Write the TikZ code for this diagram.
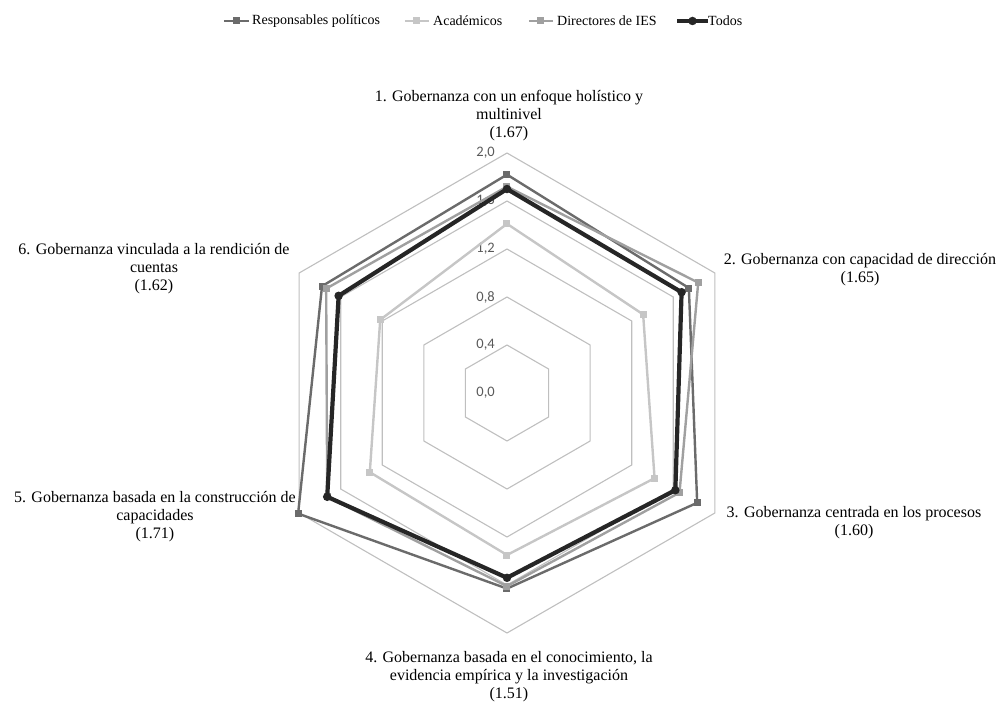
\documentclass[tikz,border=0pt]{standalone}
\usepackage{fontspec}
\setmainfont{Liberation Serif}
\newfontfamily\tickfont{Carlito}
\usepackage{xcolor}
\usepackage{tikz}
\usetikzlibrary{positioning}
\tikzset{
  ring/.style={draw=gridc, line width=1.1pt},
  serie/.style={draw=#1, line width=2.4pt, line join=round},
  sq/.style={rectangle, fill=#1, minimum size=7pt, inner sep=0pt},
  dot/.style={circle, fill=#1, minimum size=8.5pt, inner sep=0pt},
  lbl/.style={align=center, font=\fontsize{16}{18}\selectfont, inner sep=0pt},
  leg/.style={anchor=west, font=\fontsize{14}{16}\selectfont, inner sep=0pt},
  tk/.style={anchor=east, text=tickc, font=\tickfont\fontsize{14.5}{16}\selectfont, inner sep=0pt},
}
\definecolor{resp}{HTML}{6B6B6B}
\definecolor{acad}{HTML}{C6C6C6}
\definecolor{dire}{HTML}{A0A0A0}
\definecolor{todo}{HTML}{262626}
\definecolor{gridc}{HTML}{BFBFBF}
\definecolor{tickc}{HTML}{595959}
% name, line style, mark style, six values
\newcommand{\plotserie}[4]{%
  \foreach \v [count=\i] in {#4}
    \coordinate (#1\i) at ({150-60*\i}:{\v*120});
  \draw[#2] (#11) -- (#12) -- (#13) -- (#14) -- (#15) -- (#16) -- cycle;
  \foreach \i in {1,...,6}
    \node[#3] (#1m\i) at (#1\i) {};
}

\begin{document}
\begin{tikzpicture}[x=1pt, y=1pt]
  \useasboundingbox (-507,-309) rectangle (492,393);
  % hexagon rings
  \foreach \k in {1,...,5}
    \draw[ring] (90:\k*48) \foreach \a in {30,-30,-90,-150,150} { -- (\a:\k*48) } -- cycle;
  \foreach \k/\t in {{0/0,0},{1/0,4},{2/0,8},{3/1,2},{4/1,6},{5/2,0}}
    \node[tk] (t\k) at (-12,\k*48) {\t};
  % series
  \plotserie{resp}{serie=resp}{sq=resp}{1.82,1.75,1.83,1.63,2.01,1.78}
  \plotserie{acad}{serie=acad}{sq=acad}{1.41,1.31,1.42,1.35,1.32,1.22}
  \plotserie{dire}{serie=dire}{sq=dire}{1.72,1.84,1.66,1.61,1.73,1.74}
  \plotserie{todo}{serie=todo, line width=4.2pt}{dot=todo}{1.70,1.68,1.62,1.54,1.73,1.62}
  % axis labels
  \node[lbl] (ax1) at (2,277) {1. Gobernanza con un enfoque holístico y\\multinivel\\(1.67)};
  \node[lbl] (ax2) at (353,123) {2. Gobernanza con capacidad de dirección\\(1.65)};
  \node[lbl] (ax3) at (347,-130) {3. Gobernanza centrada en los procesos\\(1.60)};
  \node[lbl] (ax4) at (2,-284) {4. Gobernanza basada en el conocimiento, la\\evidencia empírica y la investigación\\(1.51)};
  \node[lbl] (ax5) at (-352,-124) {5. Gobernanza basada en la construcción de\\capacidades\\(1.71)};
  \node[lbl] (ax6) at (-353,124) {6. Gobernanza vinculada a la rendición de\\cuentas\\(1.62)};
  % legend
  \node[leg] (leg1) at (-255,372) {Responsables políticos};
  \node[leg] (leg2) at (-74,372) {Académicos};
  \node[leg] (leg3) at (50,372) {Directores de IES};
  \node[leg] (leg4) at (201,372) {Todos};
  \coordinate[left=28pt of leg1.west] (l1);
  \coordinate[left=28pt of leg2.west] (l2);
  \coordinate[left=28pt of leg3.west] (l3);
  \coordinate[left=31pt of leg4.west] (l4);
  \draw[serie=resp] (l1) -- ([xshift=-3pt]leg1.west) node[midway, sq=resp] (lm1) {};
  \draw[serie=acad] (l2) -- ([xshift=-4pt]leg2.west) node[midway, sq=acad] (lm2) {};
  \draw[serie=dire] (l3) -- ([xshift=-4pt]leg3.west) node[midway, sq=dire] (lm3) {};
  \draw[serie=todo, line width=4.2pt] (l4) -- (leg4.west) node[midway, dot=todo] (lm4) {};
\end{tikzpicture}
\end{document}
